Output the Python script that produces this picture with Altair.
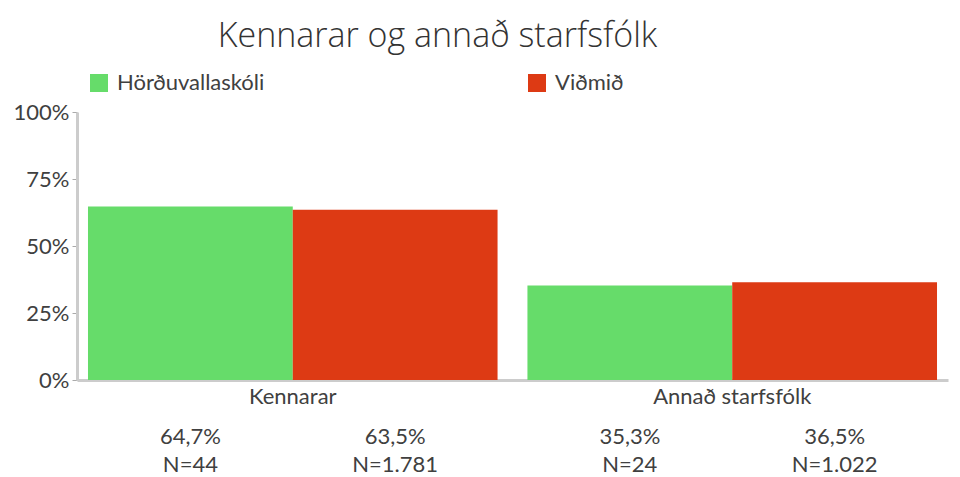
import altair as alt
import pandas as pd

categories = ["Kennarar", "Annað starfsfólk"]
series = ["Hörðuvallaskóli", "Viðmið"]
values_school = [0.647, 0.353]
values_ref = [0.635, 0.365]
n_school = ["44", "24"]
n_ref = ["1.781", "1.022"]
colors = ["#66dc6a", "#dd3a14"]

rows = []
for i, c in enumerate(categories):
    rows.append({"cat": c, "series": series[0], "value": values_school[i], "n": n_school[i]})
    rows.append({"cat": c, "series": series[1], "value": values_ref[i], "n": n_ref[i]})
df = pd.DataFrame(rows)
df["pct"] = df["value"].map(lambda v: f"{v*100:.1f}".replace(".", ",") + "%")
df["nlab"] = "N=" + df["n"]

FONT = "Lato"
TXT = "#404040"
W, H = 871, 268

x_enc = alt.X("cat:N", sort=categories, title=None,
              scale=alt.Scale(paddingInner=0.068, paddingOuter=0.025),
              axis=alt.Axis(labelAngle=0, labelFontSize=22, labelFont=FONT, labelColor=TXT,
                            labelPadding=6, ticks=False, domainColor="#cccccc", domainWidth=3))
xo = alt.XOffset("series:N", sort=series)

bars = alt.Chart(df).mark_bar().encode(
    x=x_enc,
    xOffset=xo,
    y=alt.Y("value:Q", scale=alt.Scale(domain=[0, 1]), title=None,
            axis=alt.Axis(values=[0, 0.25, 0.5, 0.75, 1], format=".0%", grid=False,
                          labelFontSize=22, labelFont=FONT, labelColor=TXT, labelPadding=3,
                          tickSize=5, tickColor="#aaaaaa", domainColor="#cccccc", domainWidth=3)),
    color=alt.Color("series:N", sort=series, scale=alt.Scale(domain=series, range=colors),
                    legend=alt.Legend(title=None, orient="none", legendX=11, legendY=-40,
                                      direction="horizontal", columns=2, columnPadding=261,
                                      symbolType="square", symbolSize=324, symbolStrokeWidth=0,
                                      symbolOpacity=1, labelFontSize=22, labelFont=FONT,
                                      labelColor=TXT, labelOffset=7)),
)

pct = alt.Chart(df).mark_text(fontSize=22, font=FONT, color=TXT, baseline="middle").encode(
    x=alt.X("cat:N", sort=categories), xOffset=xo, y=alt.value(H + 57), text="pct:N")
nl = alt.Chart(df).mark_text(fontSize=22, font=FONT, color=TXT, baseline="middle").encode(
    x=alt.X("cat:N", sort=categories), xOffset=xo, y=alt.value(H + 85), text="nlab:N")

chart = alt.layer(bars, pct, nl).properties(
    width=W, height=H,
    title=alt.Title("Kennarar og annað starfsfólk", fontSize=34, font="Open Sans", fontWeight=300,
                    color="#333333", anchor="middle", dx=-75, offset=18),
    autosize=alt.AutoSizeParams(type="none"),
    padding={"left": 69, "top": 104, "right": 4, "bottom": 120},
).configure_view(stroke=None)

chart.save("out.html", embed_options={"renderer": "svg", "actions": False})
